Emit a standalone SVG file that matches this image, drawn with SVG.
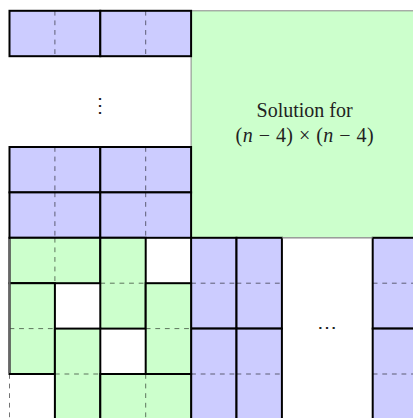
<svg xmlns="http://www.w3.org/2000/svg" width="413" height="418" viewBox="0 0 413 418">
<style>
.blue{fill:#ccccff;stroke:#000;stroke-width:2}
.green{fill:#ccffcc;stroke:#000;stroke-width:2}
.dash{fill:none;stroke:#000;stroke-opacity:0.55;stroke-width:1;stroke-dasharray:4.8 4.8}
.lbl{font-family:"Liberation Serif","DejaVu Serif",serif;font-size:20px;fill:#222;text-anchor:middle}
.dots{font-family:"DejaVu Serif",serif;font-size:20px;fill:#222;text-anchor:middle}
</style>
<rect width="413" height="418" fill="#fff"/>
<g id="solution">
<rect x="191.1" y="10.8" width="240" height="227" fill="#ccffcc" stroke="#888" stroke-width="1"/>
<text class="lbl" x="304.6" y="117.3">Solution for</text>
<text class="lbl" x="304.6" y="141.7" textLength="138" lengthAdjust="spacing">(<tspan font-style="italic">n</tspan> − 4) × (<tspan font-style="italic">n</tspan> − 4)</text>
</g>
<g id="top-rows">
<g id="b-r0-a"><rect class="blue" x="9.5" y="10.8" width="90.8" height="45.4"/><line class="dash" x1="54.9" y1="10.8" x2="54.9" y2="56.2"/></g>
<g id="b-r0-b"><rect class="blue" x="100.3" y="10.8" width="90.8" height="45.4"/><line class="dash" x1="145.7" y1="10.8" x2="145.7" y2="56.2"/></g>
<g id="b-r3-a"><rect class="blue" x="9.5" y="147" width="90.8" height="45.4"/><line class="dash" x1="54.9" y1="147" x2="54.9" y2="192.4"/></g>
<g id="b-r3-b"><rect class="blue" x="100.3" y="147" width="90.8" height="45.4"/><line class="dash" x1="145.7" y1="147" x2="145.7" y2="192.4"/></g>
<g id="b-r4-a"><rect class="blue" x="9.5" y="192.4" width="90.8" height="45.4"/><line class="dash" x1="54.9" y1="192.4" x2="54.9" y2="237.8"/></g>
<g id="b-r4-b"><rect class="blue" x="100.3" y="192.4" width="90.8" height="45.4"/><line class="dash" x1="145.7" y1="192.4" x2="145.7" y2="237.8"/></g>
<g id="vdots"><text class="dots" x="100.3" y="112">⋮</text></g>
</g>
<g id="right-cols">
<g id="b-c4-r5"><rect class="blue" x="191.1" y="237.8" width="45.4" height="90.8"/><line class="dash" x1="191.1" y1="283.2" x2="236.5" y2="283.2"/></g>
<g id="b-c5-r5"><rect class="blue" x="236.5" y="237.8" width="45.4" height="90.8"/><line class="dash" x1="236.5" y1="283.2" x2="281.9" y2="283.2"/></g>
<g id="b-c4-r7"><rect class="blue" x="191.1" y="328.6" width="45.4" height="90.8"/><line class="dash" x1="191.1" y1="374" x2="236.5" y2="374"/></g>
<g id="b-c5-r7"><rect class="blue" x="236.5" y="328.6" width="45.4" height="90.8"/><line class="dash" x1="236.5" y1="374" x2="281.9" y2="374"/></g>
<g id="b-c8-r5"><rect class="blue" x="372.7" y="237.8" width="45.4" height="90.8"/><line class="dash" x1="372.7" y1="283.2" x2="418.1" y2="283.2"/></g>
<g id="b-c8-r7"><rect class="blue" x="372.7" y="328.6" width="45.4" height="90.8"/><line class="dash" x1="372.7" y1="374" x2="418.1" y2="374"/></g>
<line x1="281.9" y1="237.8" x2="372.7" y2="237.8" stroke="#999" stroke-width="1"/>
<g id="hdots"><text class="dots" x="327.3" y="334">⋯</text></g>
</g>
<g id="corner">
<g id="g1"><rect class="green" x="9.5" y="237.8" width="90.8" height="45.4"/><line class="dash" x1="54.9" y1="237.8" x2="54.9" y2="283.2"/></g>
<g id="g2"><rect class="green" x="100.3" y="237.8" width="45.4" height="90.8"/><line class="dash" x1="100.3" y1="283.2" x2="145.7" y2="283.2"/></g>
<g id="g3"><rect class="green" x="9.5" y="283.2" width="45.4" height="90.8"/><line class="dash" x1="9.5" y1="328.6" x2="54.9" y2="328.6"/></g>
<g id="g4"><rect class="green" x="145.7" y="283.2" width="45.4" height="90.8"/><line class="dash" x1="145.7" y1="328.6" x2="191.1" y2="328.6"/></g>
<g id="g5"><rect class="green" x="54.9" y="328.6" width="45.4" height="90.8"/><line class="dash" x1="54.9" y1="374" x2="100.3" y2="374"/></g>
<g id="g6"><rect class="green" x="100.3" y="374" width="90.8" height="45.4"/><line class="dash" x1="145.7" y1="374" x2="145.7" y2="419.4"/></g>
<line x1="9.5" y1="239" x2="9.5" y2="373" stroke="#666" stroke-width="2"/>
<line class="dash" x1="9.5" y1="374" x2="9.5" y2="419.4"/>
</g>
</svg>
